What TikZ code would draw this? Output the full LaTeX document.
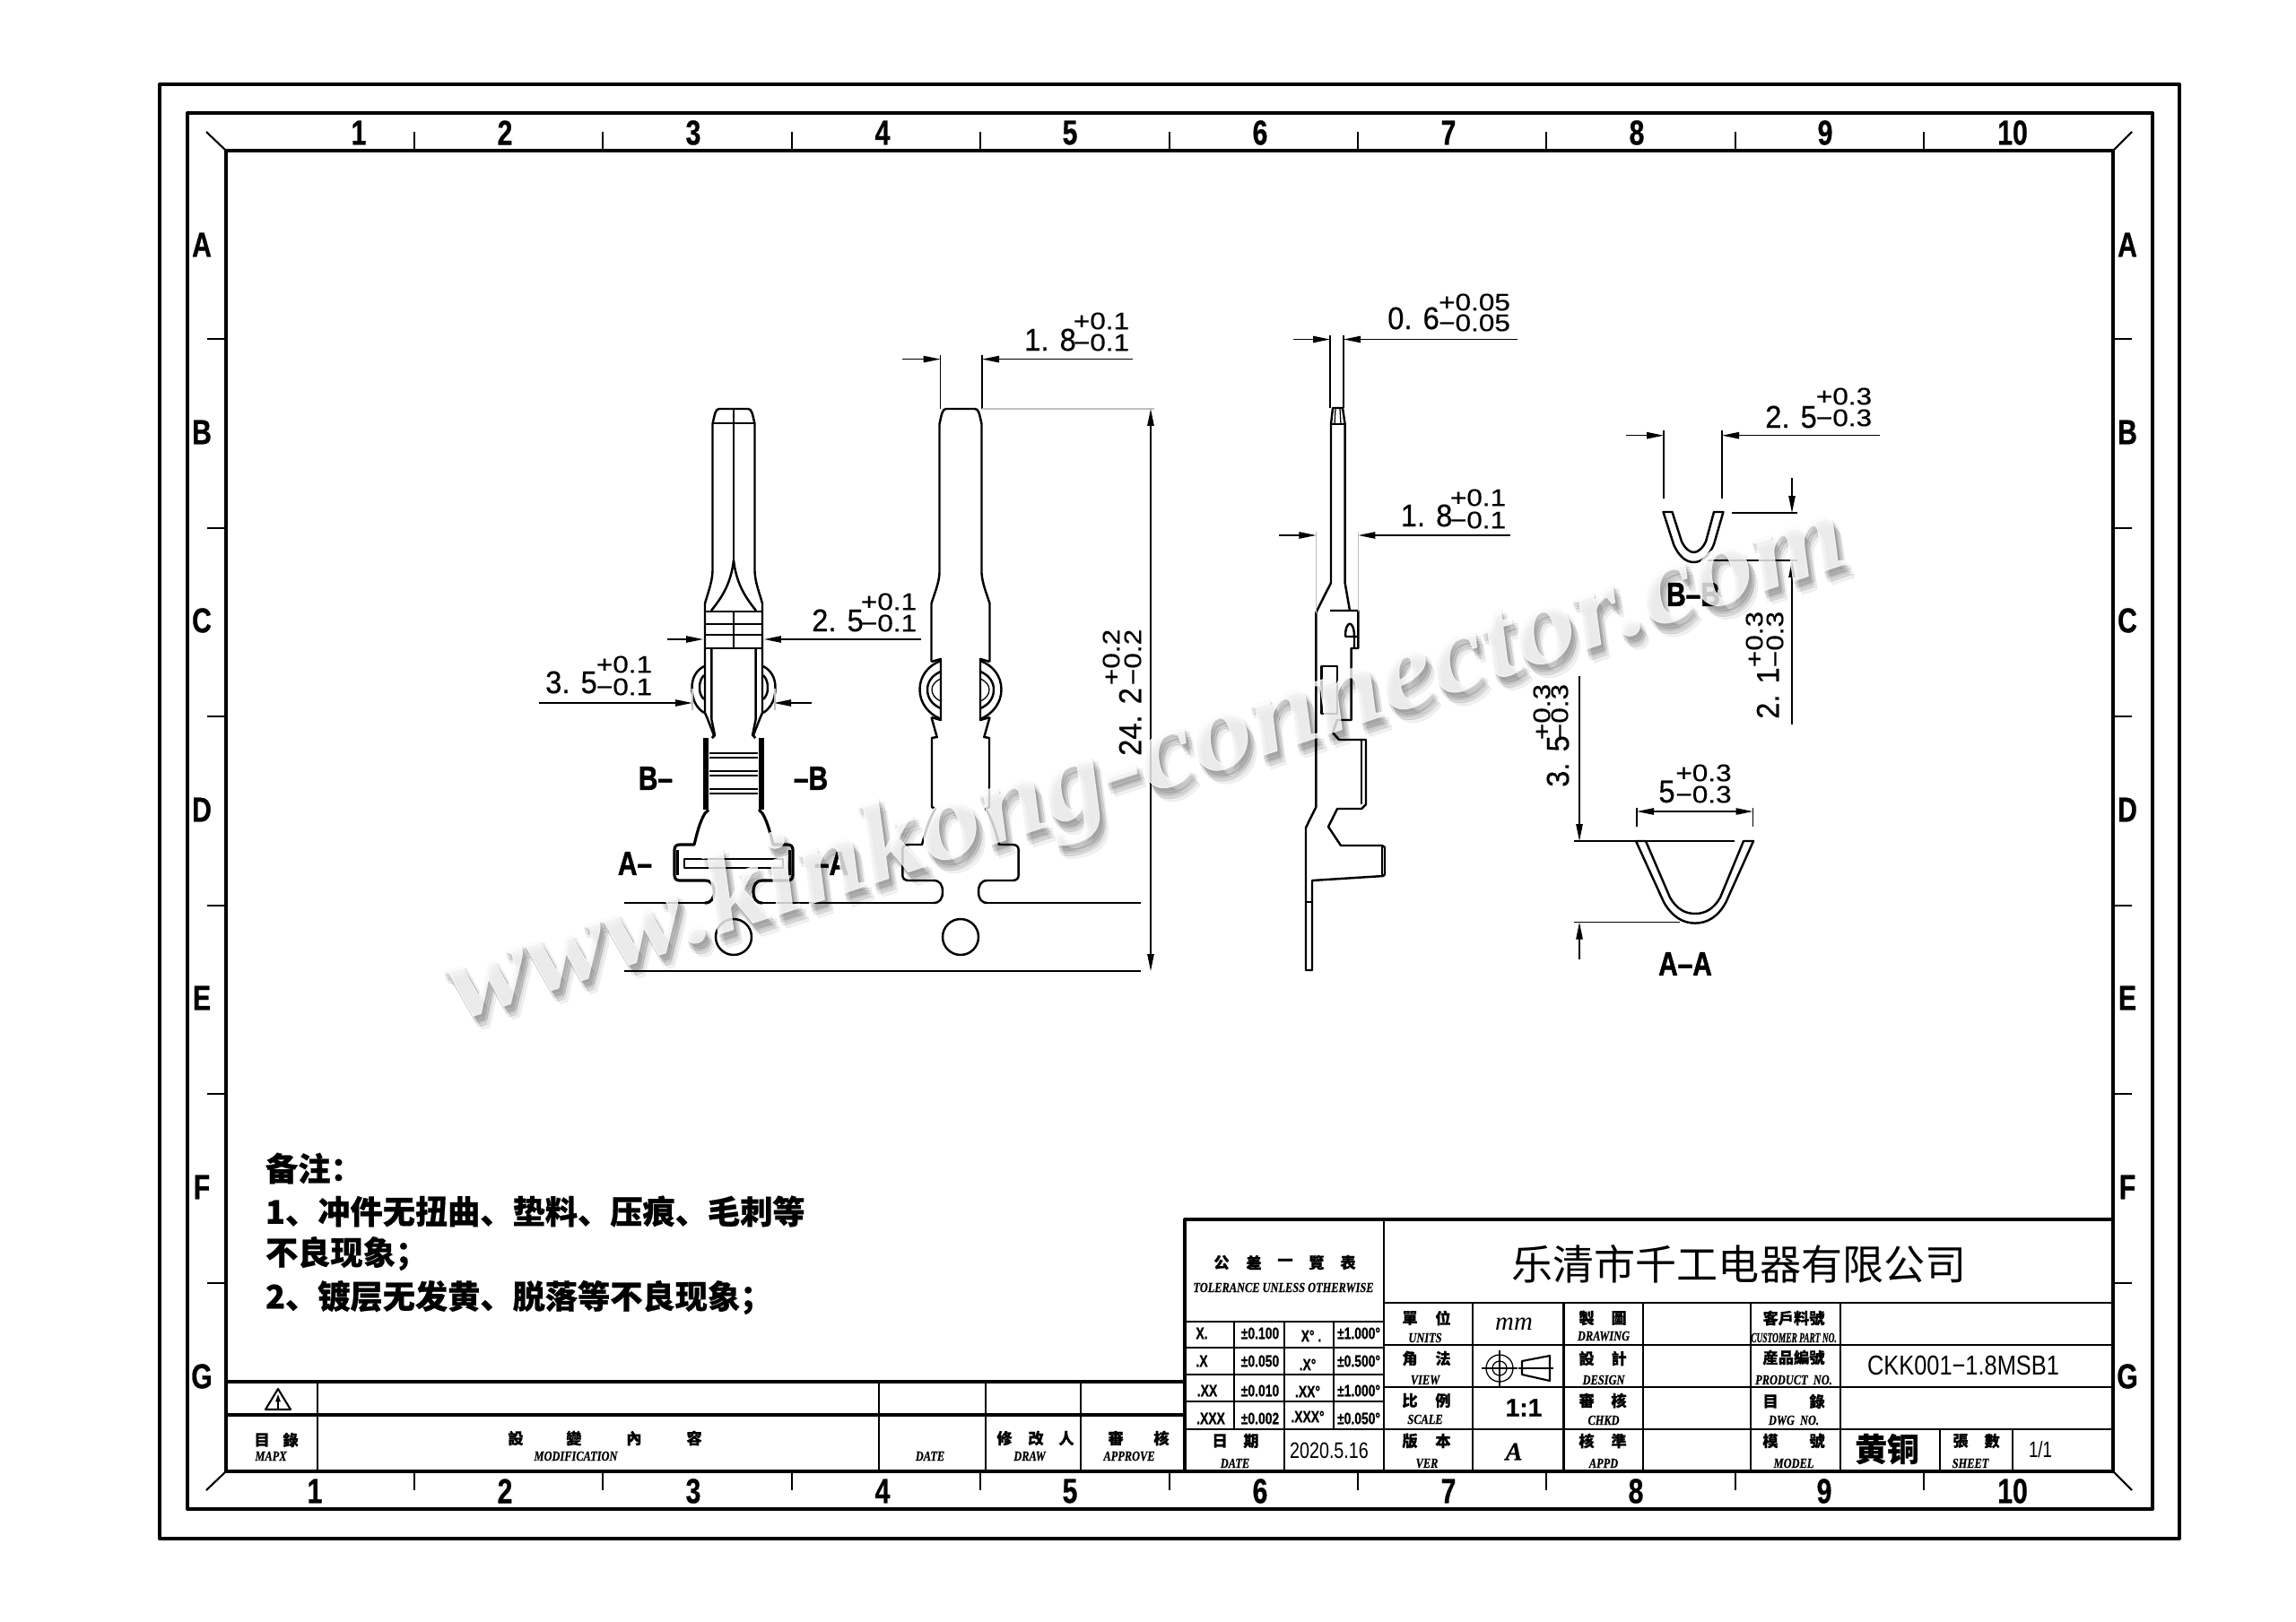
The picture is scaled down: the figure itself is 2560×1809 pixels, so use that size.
\documentclass[tikz,border=0pt]{standalone}
\usepackage{fontspec}
\usepackage{graphicx}
\usetikzlibrary{arrows.meta}
\setmainfont{Liberation Sans}
\newfontfamily\cjk[BoldFeatures={FakeBold=0.5}]{Noto Sans CJK SC}
\newfontfamily\enfont[BoldItalicFeatures={FakeBold=0.6}]{Liberation Serif}
\newfontfamily\wmfont[BoldItalicFeatures={FakeBold=0.6}]{Liberation Serif}
\newfontfamily\heavy[BoldFeatures={FakeBold=0.8}]{Liberation Sans}
\newfontfamily\secfont[BoldFeatures={FakeBold=1.6}]{Liberation Sans}
\newfontfamily\dimfont[FakeBold=0.4]{Liberation Sans}
\def\fsize#1{\fontsize{#1}{#1}\selectfont}
\newcommand{\wide}[1]{\scalebox{1.18}[1]{#1}}
\newcommand{\slim}[1]{\scalebox{0.93}[1]{#1}}
\newcommand{\narrow}[1]{\scalebox{0.78}[1]{#1}}
\newcommand{\engl}[1]{\scalebox{0.8}[1]{\enfont\fsize{4.4}\bfseries\itshape #1}}
% half of a terminal, seen from the front
\def\frontedge{(0,456) -- (-16,456) .. controls (-20,456) and (-21,461) .. (-23.5,473) -- (-23.5,637) .. controls (-24,650) and (-29,662) .. (-32,673) -- (-32,795) -- (-29,802) -- (-22,820) -- (-24,823)}
\def\flareedge{(-28,903) -- (-32,907) .. controls (-38,917) and (-41,930) .. (-44,942) -- (-60,942) .. controls (-64,942) and (-66,944) .. (-66,948) -- (-66,976) .. controls (-66,980) and (-64,982) .. (-60,982) -- (-32,982) .. controls (-25,982) and (-22,987) .. (-22,994.5) .. controls (-22,1002) and (-25,1007) .. (-32,1007)}
% half of a terminal, flat view
\def\flatedge{(0,456) -- (-16,456) .. controls (-20,456) and (-21,461) .. (-23.5,473) -- (-23.5,639) .. controls (-24,650) and (-29,662) .. (-32.5,673) -- (-32.5,738)}
\def\flatlower{(-32.5,800) -- (-26.3,822) -- (-32,823) -- (-32,900) -- (-28,902) .. controls (-33,910) and (-38,922) .. (-43,942) -- (-58,942) .. controls (-62,942) and (-64.7,944) .. (-64.7,948) -- (-64.7,976) .. controls (-64.7,980) and (-62,982) .. (-58,982) -- (-30,982) .. controls (-23,982) and (-20,987) .. (-20,994.5) .. controls (-20,1002) and (-23,1007) .. (-30,1007)}
\begin{document}
\begin{tikzpicture}[x=0.01cm,y=-0.01cm,line join=round,
    frameline/.style={line width=1.15pt},
    tabline/.style={line width=0.6pt},
    part/.style={line width=0.7pt},
    fine/.style={line width=0.36pt},
    ghost/.style={line width=0.3pt,black!25},
    dimarrow/.style={fine,-{Triangle[length=5.4pt,width=2.1pt]}},
    every node/.style={inner sep=0pt,outer sep=0pt},
    framelab/.style={font=\heavy\fsize{11}\bfseries},
    dimmain/.style={font=\dimfont\fsize{10}},
    dimtol/.style={font=\dimfont\fsize{7.6}},
    seclab/.style={font=\secfont\fsize{10.6}\bfseries},
    cjklab/.style={font=\cjk\fsize{4.9}\bfseries},
    notelab/.style={font=\cjk\fsize{10.3}\bfseries,anchor=west},
    cellab/.style={font=\heavy\fsize{5.2}\bfseries}]
    \useasboundingbox (0,0) rectangle (2560,1809);
    \fill[white] (0,0) rectangle (2560,1809);
    % frame
    \draw[frameline] (178,94) rectangle (2430,1716);
    \draw[frameline] (209,126) rectangle (2400,1683);
    \draw[frameline] (252,168) rectangle (2356,1641);
    \draw[tabline] (252,168) -- (230,147);
    \draw[tabline] (2356,168) -- (2377,147);
    \draw[tabline] (252,1641) -- (230,1662);
    \draw[tabline] (2356,1641) -- (2377,1662);
    \foreach \x in {462,672.4,882.8,1093.2,1303.6,1514,1724.4,1934.8,2145.2} {
        \draw[tabline] (\x,168) -- (\x,147);
        \draw[tabline] (\x,1641) -- (\x,1662);
    }
    \foreach \y in {378,588.6,799.2,1009.8,1220.4,1431} {
        \draw[tabline] (252,\y) -- (231,\y);
        \draw[tabline] (2356,\y) -- (2377,\y);
    }
    \foreach \t/\a/\b [count=\i] in {1/400/351,2/563/563,3/773/773,4/984/984,5/1193/1193,6/1405/1405,7/1615/1615,8/1825/1824,9/2035/2034,10/2244/2244} {
        \node[framelab] (top\i) at (\a,148) {\narrow{\t}};
        \node[framelab] (bot\i) at (\b,1663) {\narrow{\t}};
    }
    \foreach \t/\y [count=\i] in {A/273,B/482,C/692,D/903,E/1113,F/1324,G/1535} {
        \node[framelab] (lft\i) at (225,\y) {\narrow{\t}};
        \node[framelab] (rgt\i) at (2372,\y) {\narrow{\t}};
    }
    % title block
    \draw[frameline] (1321,1641) -- (1321,1360) -- (2356,1360);
    \draw[frameline] (252,1541) -- (1321,1541);
    \draw[line width=0.9pt] (252,1578) -- (1321,1578);
    \foreach \x in {353.6,980,1099,1205} \draw[tabline] (\x,1541) -- (\x,1641);
    \draw[tabline] (1543,1360) -- (1543,1641);
    \draw[tabline] (1543,1453) -- (2356,1453);
    \foreach \y in {1500,1547,1594} \draw[tabline] (1543,\y) -- (2356,\y);
    \foreach \x in {1642,1743.5,1832,1952,2052} \draw[tabline] (\x,1453) -- (\x,1641);
    \foreach \x in {2163,2244} \draw[tabline] (\x,1594) -- (\x,1641);
    \foreach \y in {1474,1503,1533,1563,1594} \draw[tabline] (1321,\y) -- (1543,\y);
    \foreach \x in {1376,1487} \draw[tabline] (\x,1474) -- (\x,1594);
    \draw[tabline] (1432,1474) -- (1432,1641);
    % warning triangle
    \draw[tabline] (296,1572) -- (310,1549) -- (324,1572) -- cycle;
    \draw[fine,-{Triangle[length=2.4pt,width=1.6pt]}] (310,1572) -- (310,1555);
    % projection symbol
    \draw[fine] (1672,1526) circle (15) (1672,1526) circle (8);
    \draw[fine] (1652,1526) -- (1692,1526) (1672,1506) -- (1672,1546);
    \draw[tabline] (1697,1518) -- (1728,1512) -- (1728,1540) -- (1697,1533) -- cycle;
    \draw[fine] (1693,1526) -- (1732,1526);
    % texts of the title block
    \node[font=\cjk\fsize{13.1}] (company) at (1939,1410) {乐清市千工电器有限公司};
    \foreach \x/\y/\t [count=\i] in {1362/1408/公,1398/1408/差,1433/1408/一,1468/1408/覽,1503/1408/表,
        1572/1470/單,1609/1470/位,1769/1470/製,1805/1470/圖,2000/1470/客戶料號,
        1572/1515/角,1609/1515/法,1769/1515/設,1805/1515/計,2000/1514/産品編號,
        1572/1562/比,1609/1562/例,1769/1562/審,1805/1562/核,1974/1563/目,2026/1563/錄,
        1360/1607/日,1395/1607/期,1572/1607/版,1609/1607/本,1769/1607/核,1805/1607/準,
        1974/1607/模,2026/1607/號,2186/1607/張,2221/1607/數,
        292/1606/目,324/1606/錄,575/1604/設,640/1604/變,707/1604/內,774/1604/容,
        1120/1604/修,1155/1604/改,1189/1604/人,1244/1604/審,1295/1604/核}
        \node[cjklab] (zh\i) at (\x,\y) {\t};
    \foreach \x/\y/\t [count=\i] in {1431/1436/TOLERANCE UNLESS OTHERWISE,
        1589/1492/UNITS,1788/1490/DRAWING,2000/1492/\scalebox{0.76}[1]{CUSTOMER PART NO.},
        1589/1539/VIEW,1788/1539/DESIGN,2000/1539/PRODUCT\ \ NO.,
        1589/1583/SCALE,1788/1584/CHKD,2000/1584/DWG\ \ NO.,
        1377/1632/DATE,1591/1632/VER,1788/1632/APPD,2000/1632/MODEL,2197/1632/SHEET,
        302/1624/MAPX,642/1624/MODIFICATION,1037/1624/DATE,1148/1624/DRAW,1259/1624/APPROVE}
        \node (en\i) at (\x,\y) {\engl{\t}};
    \foreach \x/\y/\t [count=\i] in {1340/1487/X.,1340/1518/.X,1346/1551/.XX,1350/1582/.XXX,
        1405/1487/±0.100,1405/1518/±0.050,1405/1551/±0.010,1405/1582/±0.002,
        1462/1490/X°\ .,1458/1522/.X°,1458/1552/.XX°,1458/1580/.XXX°,
        1515/1487/±1.000°,1515/1518/±0.500°,1515/1551/±1.000°,1515/1582/±0.050°}
        \node[cellab] (tol\i) at (\x,\y) {\scalebox{0.76}[1]{\t}};
    \node[font=\enfont\fsize{8.2}\itshape] (unit) at (1688,1477) {mm};
    \node[font=\heavy\fsize{8}\bfseries] (scale) at (1699,1570) {1:1};
    \node[font=\enfont\fsize{8}\bfseries\itshape] (version) at (1688,1619) {A};
    \node[font=\fsize{7.1}] (date) at (1482,1618) {\scalebox{0.79}[1]{2020.5.16}};
    \node[font=\fsize{7.1}] (sheets) at (2275,1617) {\scalebox{0.75}[1]{1/1}};
    \node[font=\fsize{8.7}] (partno) at (2189,1523) {\scalebox{0.83}[1]{CKK001−1.8MSB1}};
    \node[font=\cjk\fsize{10.2}\bfseries] (material) at (2104,1616) {黄铜};
    % remarks
    \node[notelab] (note0) at (296,1303) {备注：};
    \node[notelab] (note1) at (296,1351) {1、冲件无扭曲、垫料、压痕、毛刺等};
    \node[notelab] (note2) at (296,1398) {不良现象；};
    \node[notelab] (note3) at (296,1447) {2、镀层无发黄、脱落等不良现象；};
    % front view
    \begin{scope}[shift={(818,0)}]
        \foreach \s in {1,-1} {
            \begin{scope}[xscale=\s]
                \draw[part] \frontedge;
                \draw[line width=0.9pt] \flareedge;
                \draw[line width=1.5pt] (-31,823) -- (-31,903);
                \draw[part] (0,625) .. controls (-3,650) and (-12,665) .. (-25,681);
                \draw[part] (-24.7,723) -- (-24.7,802) -- (-21,820) -- (-24,823);
                \draw[part] (-33,743) .. controls (-42,748) and (-46.5,756) .. (-46.5,767) .. controls (-46.5,780) and (-42,789) .. (-33,795);
                \draw[part] (-33,753) .. controls (-37,757) and (-38,762) .. (-38,767) .. controls (-38,772) and (-37,776) .. (-33,780);
                \draw[part] (-62.7,948) -- (-62.7,976);
            \end{scope}
        }
        \draw[part] (0,456) -- (0,625);
        \draw[part] (-23.5,472) -- (23.5,472);
        \draw[part] (-32,682) rectangle (32,723);
        \draw[line width=0.75pt] (0,682) -- (0,723);
        \foreach \y in {696,708} \draw[part] (-32,\y) -- (32,\y);
        \foreach \y in {840,845,860,865,880,885} \draw[part] (-27,\y) -- (27,\y);
        \draw[line width=0.8pt] (-55,958) rectangle (55,968);
        \draw[part] (0,1045) circle (20);
    \end{scope}
    % flat view
    \begin{scope}[shift={(1071,0)}]
        \foreach \s in {1,-1} {
            \begin{scope}[xscale=\s]
                \draw[part] \flatedge;
                \draw[part] \flatlower;
                \draw[part] (-32.5,738) -- (-22,735) -- (-22,803) -- (-32.5,800);
                \draw[part] (-22,737) .. controls (-36,742) and (-45.5,754) .. (-45.5,769) .. controls (-45.5,784) and (-36,796) .. (-22,802);
                \draw[part] (-22,749) .. controls (-32,753) and (-37,761) .. (-37,769) .. controls (-37,778) and (-32,786) .. (-22,790);
                \draw[fine] (-22,757) .. controls (-29,760) and (-32,765) .. (-32,769) .. controls (-32,774) and (-29,779) .. (-22,782);
            \end{scope}
        }
        \draw[part] (0,1045) circle (20);
    \end{scope}
    \draw[part] (696,1007) -- (786,1007) (850,1007) -- (1041,1007) (1101,1007) -- (1272,1007);
    \draw[part] (696,1083) -- (1272,1083);
    % side view
    \draw[part] (1484,473) -- (1486,455) -- (1497,455) -- (1499.6,473);
    \draw[fine] (1489,456) -- (1488,473) (1494,456) -- (1495,473);
    \draw[part] (1484,473) -- (1499.6,473);
    \draw[part] (1484,473) -- (1484,650) -- (1467.4,683) -- (1467.4,900) -- (1456,923) -- (1456,1082) -- (1463,1082) -- (1463,982) -- (1542,977) -- (1544,975) -- (1544,945) -- (1541,943) -- (1495,943) -- (1481,922) -- (1491,902) -- (1518,902) -- (1523,897) -- (1523,825) -- (1493,825) -- (1486,817) -- (1491,803) -- (1506.6,803) -- (1506.6,723) -- (1514.4,723) -- (1514.4,681) -- (1483,681);
    \draw[part] (1499.6,473) -- (1499.6,650) -- (1505,681);
    \draw[fine] (1518,825) -- (1518,897);
    \draw[fine] (1541,943) -- (1541,977);
    \draw[fine] (1456,1006) -- (1463,1006);
    \draw[part] (1473.7,743) rectangle (1491,796);
    \draw[part] (1499.5,710) -- (1514.4,710) (1500,710) .. controls (1500,691) and (1510,691) .. (1510,710) -- (1510,723);
    % section B-B
    \draw[part] (1854.5,571) -- (1866,607) .. controls (1872,621) and (1880,627) .. (1888.5,627) .. controls (1897,627) and (1905,621) .. (1911,607) -- (1921.4,571) -- (1911,571) -- (1902,604) .. controls (1898,612) and (1893,616) .. (1888.5,616) .. controls (1884,616) and (1879,612) .. (1875,604) -- (1864.5,571) -- cycle;
    % section A-A
    \draw[part] (1824,938) -- (1855,1006) .. controls (1864,1022) and (1876,1029.6) .. (1890,1029.6) .. controls (1904,1029.6) and (1916,1022) .. (1924.5,1006) -- (1955,938) -- (1944,938) -- (1918,1001) .. controls (1911,1013) and (1902,1019) .. (1890,1019) .. controls (1878,1019) and (1869,1013) .. (1862,1001) -- (1835,938) -- cycle;
    % dimensions of the front and flat views
    \draw[fine] (1048.6,396) -- (1048.6,456) (1095,396) -- (1095,456);
    \draw[dimarrow] (1006,400.6) -- (1048.6,400.6);
    \draw[dimarrow] (1263,400.6) -- (1095,400.6);
    \draw[ghost] (1095,456) -- (1287,456);
    \draw[fine,{Triangle[length=5.4pt,width=2.1pt]}-{Triangle[length=5.4pt,width=2.1pt]}] (1283,456) -- (1283,1083);
    \draw[dimarrow] (744,713) -- (784,713);
    \draw[dimarrow] (1027,713) -- (852,713);
    \draw[dimarrow] (601,784) -- (772,784);
    \draw[dimarrow] (905,784) -- (863,784);
    \draw[ghost] (772,768) -- (772,792) (864,768) -- (864,792);
    % dimensions of the side view
    \draw[fine] (1483,374) -- (1483,455) (1498,374) -- (1498,455);
    \draw[dimarrow] (1441.5,378.5) -- (1483,378.5);
    \draw[dimarrow] (1692,378.5) -- (1498,378.5);
    \draw[ghost] (1467.4,593) -- (1467.4,684) (1514.4,593) -- (1514.4,682);
    \draw[dimarrow] (1426,597) -- (1467.4,597);
    \draw[dimarrow] (1683.5,597) -- (1514.4,597);
    % dimensions of section B-B
    \draw[fine] (1855,480) -- (1855,556) (1920,480) -- (1920,556);
    \draw[dimarrow] (1813,485.7) -- (1855,485.7);
    \draw[dimarrow] (2096,485.7) -- (1920,485.7);
    \draw[fine] (1931,572) -- (2003.6,572) (1904,625) -- (2003.6,625);
    \draw[dimarrow] (1998,533) -- (1998,572);
    \draw[dimarrow] (1998,808) -- (1998,625);
    % dimensions of section A-A
    \draw[fine] (1825,901) -- (1825,922) (1954.5,901) -- (1954.5,922);
    \draw[fine,{Triangle[length=5.4pt,width=2.1pt]}-{Triangle[length=5.4pt,width=2.1pt]}] (1825,905) -- (1954.5,905);
    \draw[fine] (1755,938) -- (1934,938) (1755,1028.5) -- (1873,1028.5);
    \draw[dimarrow] (1761,754) -- (1761,938);
    \draw[dimarrow] (1761,1070) -- (1761,1028.5);
    % dimension values
    \foreach \x/\y/\t [count=\i] in {1171/379/1. 8,934/692/2. 5,637/761/3. 5,1576/355/0. 6,1590.6/575/1. 8,1997/465/2. 5,1858.5/883/5}
        \node[dimmain] (val\i) at (\x,\y) {\slim{\t}};
    \foreach \x/\y/\t [count=\i] in {1228/358/+0.1,1228/382/−0.1,991/671/+0.1,991/695/−0.1,696/741/+0.1,696/766/−0.1,
        1644/337/+0.05,1644/360/−0.05,1648/555/+0.1,1648/580/−0.1,2056/442/+0.3,2056/466/−0.3,1899.5/862/+0.3,1899.5/886/−0.3}
        \node[dimtol] (dev\i) at (\x,\y) {\wide{\t}};
    \foreach \x/\y/\t [count=\i] in {1260/805/24. 2,1971/773/2. 1,1737/849/3. 5}
        \node[dimmain,rotate=90] (rval\i) at (\x,\y) {\slim{\t}};
    \foreach \x/\y/\t [count=\i] in {1239/733/+0.2,1263/733/−0.2,1956/713/+0.3,1979/713/−0.3,1719/794/+0.3,1739/794/−0.3}
        \node[dimtol,rotate=90] (rdev\i) at (\x,\y) {\wide{\t}};
    % section marks
    \foreach \x/\y/\t [count=\i] in {731/868/B–,904/868/–B,708/963/A–,927/963/–A,1888/663/B–B,1879/1075/A–A}
        \node[seclab] (sec\i) at (\x,\y) {\scalebox{0.8}[1]{\t}};
    % watermark
    \foreach \dx/\dy [count=\i] in {2/3,4/6,6/9,8/12,10/15,3/8,7/6,5/12}
        \node[font=\wmfont\fsize{37}\bfseries\itshape,text=black,text opacity=0.05,rotate=18.2,anchor=base] (shade\i) at (1288+\dx,882+\dy) {\scalebox{1.05}[1]{www.kinkong-connector.com}};
    \node[font=\wmfont\fsize{37}\bfseries\itshape,text=white,text opacity=0.78,rotate=18.2,anchor=base] (mark) at (1288,882) {\scalebox{1.05}[1]{www.kinkong-connector.com}};
\end{tikzpicture}
\end{document}
